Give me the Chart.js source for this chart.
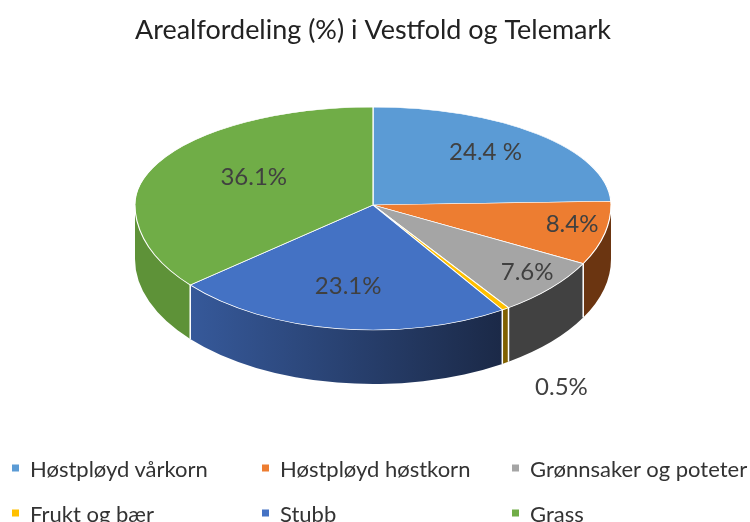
<!DOCTYPE html>
<html>
<head>
<meta charset="utf-8">
<script src="https://cdn.jsdelivr.net/npm/chart.js@4"></script>
<style>
html, body { margin: 0; padding: 0; background: #fff; }
#wrap { position: relative; width: 750px; height: 522px; overflow: hidden; }
#legend { position: absolute; left: 0; top: 0; width: 750px; height: 522px; pointer-events: none;
  font-family: Lato, "Noto Sans", sans-serif; font-size: 22px; color: #333; }
.item { position: absolute; display: flex; align-items: center; white-space: nowrap; transform: translateY(-50%); }
.item .box { width: 7px; height: 7px; margin-right: 11px; }
</style>
</head>
<body>
<div id="wrap">
  <canvas id="chart" width="750" height="522"></canvas>
  <div id="legend"></div>
</div>
<script>
const categories = ['Høstpløyd vårkorn', 'Høstpløyd høstkorn', 'Grønnsaker og poteter', 'Frukt og bær', 'Stubb', 'Grass'];
const values = [24.4, 8.4, 7.6, 0.5, 23.1, 36.1];
const valueLabels = ['24.4 %', '8.4%', '7.6%', '0.5%', '23.1%', '36.1%'];
const topColors = ['#5B9BD5', '#ED7D31', '#A5A5A5', '#FFC000', '#4472C4', '#70AD47'];
// side wall colours: [left, right] for a horizontal gradient
const sideColors = [['#3f6f9a', '#3f6f9a'], ['#6b3511', '#6b3511'], ['#414141', '#414141'],
                    ['#806000', '#806000'], ['#36599a', '#1b2947'], ['#5e9238', '#5e9238']];

// fake perspective: back half flatter than front half
const TILT_BACK = 98 / 238;
const TILT_FRONT = 125 / 238;
const DEPTH = 54;

const pie3d = {
  id: 'pie3d',
  beforeDatasetsDraw(chart) {
    const ctx = chart.ctx;
    const arcs = chart.getDatasetMeta(0).data;
    const { x: cx, y: cy, outerRadius: r } = arcs[0];
    ctx.save();
    // side walls (front half only)
    arcs.forEach((a, i) => {
      const s = Math.max(a.startAngle, 0), e = Math.min(a.endAngle, Math.PI);
      if (e <= s) return;
      ctx.save();
      ctx.translate(cx, cy);
      ctx.scale(1, TILT_FRONT);
      ctx.beginPath();
      ctx.arc(0, 0, r, s, e);
      ctx.arc(0, DEPTH / TILT_FRONT, r, e, s, true);
      ctx.closePath();
      ctx.restore();
      const g = ctx.createLinearGradient(cx + r * Math.cos(e), 0, cx + r * Math.cos(s), 0);
      g.addColorStop(0, sideColors[i][0]);
      g.addColorStop(1, sideColors[i][1]);
      ctx.fillStyle = g;
      ctx.fill();
    });
    // white seams between the walls
    ctx.strokeStyle = '#fff';
    ctx.lineWidth = 1.5;
    arcs.forEach(a => {
      const ang = a.endAngle;
      if (ang > 0 && ang < Math.PI) {
        const x = cx + r * Math.cos(ang), y = cy + r * TILT_FRONT * Math.sin(ang);
        ctx.beginPath();
        ctx.moveTo(x, y);
        ctx.lineTo(x, y + DEPTH);
        ctx.stroke();
      }
    });
    // top surface, drawn in two halves with different squash
    [[TILT_BACK, 0, cy + 0.5], [TILT_FRONT, cy - 0.5, chart.height]].forEach(([t, y0, y1]) => {
      ctx.save();
      ctx.beginPath();
      ctx.rect(0, y0, chart.width, y1 - y0);
      ctx.clip();
      ctx.translate(cx, cy);
      ctx.scale(1, t);
      ctx.translate(-cx, -cy);
      arcs.forEach(a => a.draw(ctx));
      ctx.restore();
    });
    ctx.restore();
    return false;
  },
  afterDraw(chart) {
    const ctx = chart.ctx;
    const arcs = chart.getDatasetMeta(0).data;
    const { x: cx, y: cy, outerRadius: r } = arcs[0];
    const total = values.reduce((s, v) => s + v, 0);
    ctx.save();
    ctx.font = '24px Lato';
    ctx.fillStyle = '#404040';
    ctx.textAlign = 'center';
    ctx.textBaseline = 'middle';
    arcs.forEach((a, i) => {
      const mid = (a.startAngle + a.endAngle) / 2;
      const sn = Math.sin(mid), t = sn > 0 ? TILT_FRONT : TILT_BACK;
      let x, y;
      if (values[i] < 2) {
        // tiny slice: label outside, below the wall
        x = cx + r * Math.cos(mid) + 56;
        y = cy + r * t * sn + DEPTH + 24;
      } else {
        const f = 0.95 - 1.1 * values[i] / total;
        x = cx + f * r * Math.cos(mid);
        y = cy + f * r * t * sn - 5;
      }
      ctx.fillText(valueLabels[i], x, y);
    });
    ctx.restore();
  }
};

new Chart(document.getElementById('chart'), {
  type: 'pie',
  data: {
    labels: categories,
    datasets: [{
      data: values,
      backgroundColor: topColors,
      borderColor: '#fff',
      borderWidth: 1.2,
      radius: 238,
      clip: false
    }]
  },
  options: {
    responsive: false,
    animation: false,
    devicePixelRatio: 1,
    layout: { padding: { left: 135, right: 139, top: 0, bottom: 166.5 } },
    plugins: {
      legend: { display: false },
      tooltip: { enabled: false },
      title: {
        display: true,
        text: 'Arealfordeling (%) i Vestfold og Telemark',
        color: '#222',
        font: { family: 'Lato', size: 27.5, weight: 'normal' },
        padding: { top: 13.5, bottom: 8 }
      }
    }
  },
  plugins: [pie3d]
});

// legend in three columns, two rows
const legendX = [12, 262, 512];
const legendY = [468, 513];
const legendDiv = document.getElementById('legend');
categories.forEach((c, i) => {
  const el = document.createElement('div');
  el.className = 'item';
  el.style.left = legendX[i % 3] + 'px';
  el.style.top = legendY[Math.floor(i / 3)] + 'px';
  el.innerHTML = `<span class="box" style="background:${topColors[i]}"></span>${c}`;
  legendDiv.appendChild(el);
});
</script>
</body>
</html>
